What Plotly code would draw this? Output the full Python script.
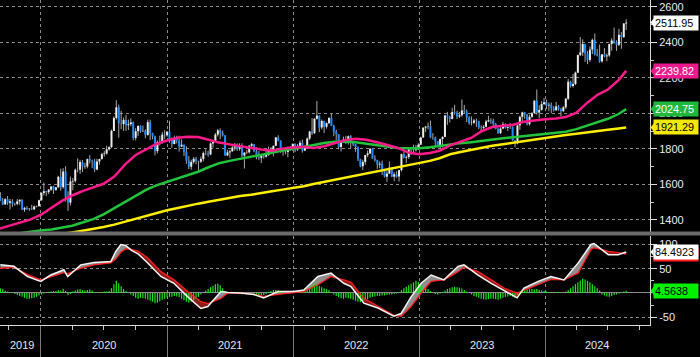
import pandas as pd
import plotly.graph_objects as go

# ------------------------------------------------------------------ data
WEEK0 = "2019-09-06"          # first weekly bar (Friday)
OPEN0 = 1529                  # open of the first weekly bar

CLOSE = [
    # 2019
    1507, 1488, 1517, 1497, 1505, 1489, 1490, 1505, 1514, 1459, 1468, 1462, 1464, 1460, 1476, 1478, 1511,
    # 2020
    1552, 1562, 1557, 1571, 1589, 1570, 1584, 1643, 1585, 1673, 1530, 1498, 1617, 1620, 1683, 1683, 1727,
    1700, 1702, 1743, 1735, 1730, 1685, 1730, 1743, 1771, 1775, 1798, 1810, 1902, 1975, 2035, 1944, 1940,
    1964, 1934, 1940, 1950, 1862, 1900, 1930, 1900, 1902, 1879, 1951, 1889, 1871, 1788, 1839, 1839, 1881, 1877,
    # 2021
    1898, 1850, 1828, 1856, 1847, 1814, 1824, 1784, 1734, 1700, 1727, 1745, 1732, 1729, 1744, 1777, 1777,
    1769, 1831, 1844, 1881, 1905, 1891, 1877, 1764, 1781, 1787, 1808, 1815, 1802, 1814, 1763, 1780, 1781,
    1818, 1827, 1787, 1754, 1750, 1761, 1757, 1767, 1793, 1783, 1818, 1865, 1846, 1788, 1783, 1783, 1798,
    1811, 1829,
    # 2022
    1797, 1818, 1835, 1791, 1808, 1859, 1898, 1889, 1970, 1988, 1921, 1958, 1925, 1946, 1975, 1931, 1897,
    1884, 1811, 1846, 1853, 1851, 1872, 1840, 1827, 1811, 1742, 1703, 1727, 1766, 1775, 1802, 1747, 1737,
    1712, 1717, 1675, 1644, 1661, 1695, 1644, 1657, 1645, 1681, 1771, 1751, 1755, 1797, 1797, 1793, 1798, 1824,
    # 2023
    1865, 1920, 1926, 1928, 1865, 1865, 1842, 1811, 1856, 1868, 1989, 1978, 1969, 2008, 2004, 1983, 1990,
    2017, 2011, 1978, 1946, 1948, 1961, 1958, 1921, 1919, 1925, 1955, 1962, 1959, 1942, 1914, 1889, 1915,
    1940, 1919, 1924, 1925, 1849, 1833, 1933, 1981, 2006, 1993, 1940, 1981, 2002, 2072, 2005, 2020, 2053, 2063,
    # 2024
    2045, 2049, 2029, 2018, 2040, 2024, 2013, 2035, 2083, 2179, 2155, 2166, 2230, 2330, 2344, 2392, 2338,
    2302, 2360, 2415, 2334, 2327, 2294, 2333, 2322, 2327, 2392, 2411, 2401, 2387, 2443, 2431, 2507, 2511.95,
]

HIGH = [
    1557, 1524, 1523, 1535, 1519, 1517, 1498, 1518, 1516, 1517, 1474, 1478, 1466, 1485, 1481, 1481, 1514,
    1556, 1611, 1563, 1574, 1590, 1592, 1585, 1649, 1689, 1692, 1703, 1562, 1645, 1637, 1690, 1748, 1739,
    1738, 1722, 1746, 1765, 1740, 1745, 1745, 1745, 1779, 1789, 1818, 1815, 1909, 1984, 2075, 2050, 2015,
    1977, 1992, 1966, 1973, 1955, 1917, 1933, 1933, 1932, 1911, 1965, 1965, 1892, 1875, 1848, 1875, 1896, 1906,
    1900, 1959, 1865, 1875, 1875, 1875, 1855, 1825, 1816, 1760, 1740, 1755, 1756, 1734, 1758, 1785, 1798,
    1790, 1837, 1845, 1890, 1913, 1916, 1903, 1878, 1795, 1795, 1818, 1834, 1832, 1832, 1832, 1782, 1795,
    1823, 1834, 1827, 1809, 1788, 1765, 1770, 1800, 1814, 1810, 1819, 1868, 1877, 1849, 1793, 1793, 1815,
    1815, 1831,
    1831, 1829, 1848, 1853, 1810, 1865, 1902, 1974, 1974, 2070, 1990, 1966, 1960, 1949, 1978, 1998, 1936,
    1909, 1884, 1849, 1870, 1874, 1876, 1879, 1847, 1830, 1814, 1745, 1739, 1767, 1792, 1803, 1802, 1765,
    1740, 1730, 1735, 1688, 1676, 1730, 1695, 1669, 1675, 1682, 1774, 1787, 1763, 1804, 1810, 1824, 1823, 1833,
    1869, 1922, 1929, 1949, 1960, 1890, 1870, 1845, 1858, 1871, 1990, 2009, 1988, 2032, 2049, 2015, 2009,
    2079, 2048, 2022, 1985, 1983, 1970, 1971, 1959, 1933, 1935, 1964, 1987, 1973, 1971, 1946, 1920, 1923,
    1953, 1945, 1933, 1947, 1927, 1850, 1934, 1987, 2010, 2009, 1998, 1993, 2007, 2075, 2135, 2047, 2070, 2088,
    2078, 2062, 2062, 2041, 2065, 2048, 2032, 2041, 2088, 2195, 2185, 2223, 2236, 2330, 2431, 2418, 2393,
    2352, 2378, 2422, 2450, 2364, 2388, 2335, 2368, 2339, 2392, 2424, 2484, 2412, 2477, 2460, 2509, 2531,
]

LOW = [
    1506, 1484, 1485, 1485, 1459, 1474, 1480, 1483, 1486, 1456, 1446, 1456, 1452, 1456, 1456, 1471, 1476,
    1509, 1538, 1536, 1546, 1563, 1547, 1563, 1582, 1564, 1576, 1504, 1451, 1482, 1567, 1611, 1668, 1660,
    1670, 1688, 1691, 1718, 1693, 1670, 1680, 1711, 1741, 1757, 1768, 1791, 1806, 1901, 1966, 1863, 1911,
    1902, 1902, 1907, 1928, 1849, 1848, 1873, 1891, 1896, 1860, 1875, 1850, 1855, 1764, 1775, 1820, 1830, 1855,
    1869, 1835, 1808, 1826, 1831, 1785, 1811, 1761, 1717, 1687, 1683, 1717, 1714, 1677, 1721, 1730, 1765,
    1756, 1765, 1808, 1842, 1870, 1855, 1870, 1761, 1760, 1750, 1785, 1791, 1789, 1790, 1753, 1690, 1771,
    1775, 1801, 1782, 1742, 1737, 1721, 1746, 1751, 1761, 1770, 1758, 1816, 1843, 1778, 1762, 1770, 1753,
    1789, 1790,
    1782, 1789, 1806, 1780, 1788, 1807, 1850, 1878, 1885, 1966, 1895, 1910, 1890, 1915, 1940, 1929, 1872,
    1850, 1798, 1786, 1837, 1828, 1825, 1805, 1816, 1784, 1732, 1697, 1681, 1711, 1754, 1771, 1745, 1728,
    1688, 1692, 1654, 1639, 1615, 1660, 1641, 1618, 1638, 1617, 1673, 1747, 1721, 1744, 1766, 1773, 1785, 1795,
    1824, 1862, 1896, 1911, 1861, 1852, 1819, 1809, 1805, 1809, 1867, 1936, 1949, 1967, 1993, 1969, 1975,
    1982, 2000, 1952, 1937, 1933, 1940, 1925, 1911, 1893, 1902, 1922, 1951, 1942, 1929, 1911, 1885, 1884,
    1912, 1915, 1901, 1913, 1846, 1810, 1826, 1908, 1953, 1970, 1932, 1932, 1976, 2001, 1993, 1973, 2016, 2047,
    2024, 2013, 2002, 2010, 2016, 2015, 1984, 2009, 2025, 2076, 2146, 2146, 2160, 2228, 2323, 2324, 2291,
    2278, 2291, 2335, 2326, 2322, 2286, 2286, 2316, 2294, 2319, 2353, 2393, 2353, 2380, 2364, 2425, 2470,
]

HIST = [
    10, 8, 5, 3, 1, 0, -2, -4, -6, -8, -10, -12, -12, -11, -10, -8, -5,
    -3, -1, 0, 2, 3, 4, 4, 6, 5, 8, 4, -4, -2, 3, 5, 7, 8, 6, 5, 6, 7, 5, 2,
    1, 2, 2, 3, 3, 4, 10, 18, 25, 20, 14, 8, 4, 0,
    -3, -6, -10, -12, -10, -11, -12, -14, -16, -18, -21, -20, -17, -14, -12,
    -10, -8, -8, -6, -7, -9, -12, -15, -18, -20, -18, -15, -12, -8, -3, 2, 5,
    8, 12, 15, 18, 19, 16, 10, 4, 2, 0, -1, -2, -1, -2, -3, -2, -1, 0,
    -2, -4, -5, -6, -5, -4, -2, 2, 4, 6, 6, 5, 3, 1, 0, -1, 0, 1, 1, 2, 2, 3,
    5, 8, 12, 15, 18, 19, 15, 12, 10, 8, 6, 2, -3, -6, -9, -11, -12, -10, -11,
    -12, -14, -16, -18, -19, -17, -15, -13, -10, -8, -7, -6, -6, -5, -5, -4, -3,
    -3, -2, -1, 2, 6, 10, 13, 16, 19, 22, 25, 23, 20, 16, 12, 8, 4, 1, -2, -3, -1, 2,
    5, 8, 10, 12, 13, 12, 11, 9, 6, 3, 0, -3, -6,
    -8, -10, -12, -13, -14, -13, -12, -12, -13, -14, -12, -10, -8, -7, -6, -8, -10, -4, 1,
    4, 6, 7, 8, 8, 7, 8, 6, 5, 4, 3, 2, 1, 1, 2, 2, 1, 2, 3, 6,
    10, 14, 18, 22, 26, 30, 28, 25, 22, 18, 14, 10, 5, -3, -5, -7, -8, -6, -4, -3, -1, 1, 3, 4.5638,
]

# moving averages, read monthly (1st of each month Sep-2019 .. Aug-2024) plus the last bar
MA_END = "2024-08-23"
MA50 = [1350, 1366, 1383, 1402, 1428, 1467, 1506, 1538, 1563, 1584, 1604, 1645, 1712, 1765, 1798, 1828,
        1848, 1863, 1869, 1868, 1852, 1836, 1826, 1815, 1806, 1797, 1790, 1802, 1808, 1813, 1806, 1815,
        1832, 1850, 1858, 1852, 1838, 1824, 1806, 1780, 1771, 1777, 1790, 1820, 1842, 1862, 1900, 1924,
        1931, 1937, 1954, 1962, 1967, 1972, 1980, 2005, 2058, 2105, 2135, 2188, 2239.82]
MA100 = [1310, 1318, 1326, 1336, 1341, 1347, 1356, 1368, 1386, 1405, 1432, 1466, 1500, 1535, 1570, 1595,
         1615, 1633, 1652, 1672, 1697, 1720, 1733, 1745, 1753, 1766, 1780, 1792, 1802, 1811, 1824, 1834,
         1841, 1842, 1838, 1829, 1820, 1811, 1805, 1804, 1804, 1810, 1818, 1828, 1833, 1838, 1846, 1853,
         1860, 1866, 1872, 1879, 1886, 1891, 1897, 1912, 1930, 1950, 1970, 1997, 2024.75]
MA200 = [1270, 1278, 1286, 1294, 1302, 1310, 1320, 1330, 1339, 1348, 1360, 1374, 1390, 1408, 1423, 1440,
         1455, 1467, 1480, 1492, 1503, 1514, 1525, 1535, 1542, 1550, 1562, 1571, 1580, 1590, 1603, 1615,
         1625, 1637, 1648, 1658, 1672, 1684, 1695, 1707, 1718, 1733, 1748, 1770, 1783, 1795, 1808, 1818,
         1827, 1836, 1845, 1855, 1864, 1872, 1879, 1886, 1892, 1900, 1908, 1916, 1921.29]

MACD_DATES = ["2019-09-06", "2019-10-15", "2019-11-24", "2020-01-01", "2020-01-30", "2020-03-08",
              "2020-03-19", "2020-04-26", "2020-06-03", "2020-07-22", "2020-08-05", "2020-08-20",
              "2020-09-03", "2020-09-20", "2020-10-10", "2020-11-06", "2020-12-14", "2021-01-21",
              "2021-03-02", "2021-04-09", "2021-04-29", "2021-06-06", "2021-06-26", "2021-08-03",
              "2021-09-09", "2021-10-08", "2021-11-18", "2022-01-03", "2022-02-01", "2022-03-14",
              "2022-04-21", "2022-05-28", "2022-06-18", "2022-07-25", "2022-09-04", "2022-10-20",
              "2022-11-10", "2022-12-09", "2023-01-07", "2023-02-05", "2023-03-14", "2023-04-24",
              "2023-05-11", "2023-06-21", "2023-07-29", "2023-09-04", "2023-10-12", "2023-11-01",
              "2023-12-12", "2024-01-18", "2024-02-25", "2024-04-06", "2024-05-13", "2024-05-22",
              "2024-06-11", "2024-07-02", "2024-07-31", "2024-08-23"]
MACD = [58, 55, 34, 24, 37, 48, 34, 58, 63, 65, 85, 100, 98, 88, 80, 62, 34, 20, -8, -32,
        -28, 3, 1, 0, -3, -10, 3, 3, 6, 34, 41, 20, 13, -21, -31, -48, -42, -8, 20, 37,
        27, 55, 58, 37, 20, 6, -10, 10, 24, 34, 27, 62, 100, 102, 90, 79, 79, 84.4923]
SIGNAL = [51, 53, 38, 27, 33, 42, 40, 51, 58, 62, 70, 84, 91, 90, 86, 72, 44, 27, 3, -18,
          -22, -11, 0, 0, -3, -7, -3, 1, 3, 17, 34, 27, 22, -11, -28, -46, -48, -28, 0, 24,
          27, 44, 53, 44, 27, 10, 0, 6, 17, 28, 27, 41, 90, 93, 90, 86, 83, 79.9285]

YEAR_LABELS = ["2019", "2020", "2021", "2022", "2023", "2024"]
MACD_TICKS = [-50, 0, 50, 100]
MACD_TICKTEXT = ["-50", "", "50", "100"]

# ------------------------------------------------------------------ style / layout constants
FONT = "Liberation Sans, Arial, sans-serif"
YEAR_LABEL_POS = ["2019-11-07", "2020-07-02", "2021-07-02", "2022-07-02", "2023-07-02", "2024-05-31"]
X_RANGE = ["2019-09-05", "2024-10-31"]
C_UP, C_DN, C_WICK = "#ececec", "#1e8cff", "#a8a8a8"
C_MA50, C_MA100, C_MA200 = "#ff1a8c", "#22c43c", "#ffee00"
GRID = "#8a8a8a"
PLOT_H = 325.0

dates = pd.date_range(WEEK0, periods=len(CLOSE), freq="7D")
ds = [d.strftime("%Y-%m-%d") for d in dates]
opens = [OPEN0] + CLOSE[:-1]

wx, wy, ux, uy, dx, dy = [], [], [], [], [], []
for d, o, h, l, c in zip(ds, opens, HIGH, LOW, CLOSE):
    wx += [d, d, None]
    wy += [min(l, o, c), max(h, o, c), None]
    if c >= o:
        ux += [d, d, None]; uy += [o, c, None]
    else:
        dx += [d, d, None]; dy += [o, c, None]

ma_dates = [d.strftime("%Y-%m-%d") for d in pd.date_range("2019-09-01", "2024-08-01", freq="MS")] + [MA_END]

fig = go.Figure()
fig.add_trace(go.Scatter(x=wx, y=wy, mode="lines", line=dict(color=C_WICK, width=1),
                         xaxis="x", yaxis="y", hoverinfo="skip"))
fig.add_trace(go.Scatter(x=ux, y=uy, mode="lines", line=dict(color=C_UP, width=2),
                         xaxis="x", yaxis="y", hoverinfo="skip"))
fig.add_trace(go.Scatter(x=dx, y=dy, mode="lines", line=dict(color=C_DN, width=2),
                         xaxis="x", yaxis="y", hoverinfo="skip"))
for vals, col in [(MA200, C_MA200), (MA100, C_MA100), (MA50, C_MA50)]:
    fig.add_trace(go.Scatter(x=ma_dates, y=vals, mode="lines", line=dict(color=col, width=2.5),
                             xaxis="x", yaxis="y", hoverinfo="skip"))

# --- MACD panel: fills between MACD and signal (with exact crossing points)
mt = pd.to_datetime(MACD_DATES)
tn = [t.value for t in mt]
fx, fsig, fhi, flo = [], [], [], []
for i in range(len(MACD)):
    if i > 0:
        d0 = MACD[i - 1] - SIGNAL[i - 1]
        d1 = MACD[i] - SIGNAL[i]
        if d0 * d1 < 0:
            f = d0 / (d0 - d1)
            tc = tn[i - 1] + f * (tn[i] - tn[i - 1])
            yc = SIGNAL[i - 1] + f * (SIGNAL[i] - SIGNAL[i - 1])
            fx.append(pd.Timestamp(int(tc)).strftime("%Y-%m-%d %H:%M"))
            fsig.append(yc); fhi.append(yc); flo.append(yc)
    fx.append(mt[i].strftime("%Y-%m-%d"))
    fsig.append(SIGNAL[i])
    fhi.append(max(MACD[i], SIGNAL[i]))
    flo.append(min(MACD[i], SIGNAL[i]))

fig.add_trace(go.Scatter(x=fx, y=fsig, mode="lines", line=dict(width=0), xaxis="x2", yaxis="y2", hoverinfo="skip"))
fig.add_trace(go.Scatter(x=fx, y=fhi, mode="lines", line=dict(width=0), fill="tonexty",
                         fillcolor="#8e8e8e", xaxis="x2", yaxis="y2", hoverinfo="skip"))
fig.add_trace(go.Scatter(x=fx, y=fsig, mode="lines", line=dict(width=0), xaxis="x2", yaxis="y2", hoverinfo="skip"))
fig.add_trace(go.Scatter(x=fx, y=flo, mode="lines", line=dict(width=0), fill="tonexty",
                         fillcolor="#8a1c1c", xaxis="x2", yaxis="y2", hoverinfo="skip"))

hx, hy = [], []
for d, v in zip(ds, HIST):
    hx += [d, d, None]; hy += [0, v, None]
fig.add_trace(go.Scatter(x=hx, y=hy, mode="lines", line=dict(color="#22e622", width=1.2),
                         xaxis="x2", yaxis="y2", hoverinfo="skip"))
fig.add_trace(go.Scatter(x=MACD_DATES, y=SIGNAL, mode="lines", line=dict(color="#ff1e1e", width=1.3),
                         xaxis="x2", yaxis="y2", hoverinfo="skip"))
fig.add_trace(go.Scatter(x=MACD_DATES, y=MACD, mode="lines", line=dict(color="#f4f4f4", width=1.5),
                         xaxis="x2", yaxis="y2", hoverinfo="skip"))

tickfont = dict(family=FONT, size=11, color="#e8ecf2")
main_dom = [(PLOT_H - 232) / PLOT_H, 1]
low_dom = [0, (PLOT_H - 236) / PLOT_H]

xcommon = dict(type="date", range=X_RANGE, showgrid=True, gridcolor=GRID, griddash="dot", gridwidth=1,
               tickmode="linear", tick0="2019-01-01", dtick="M12", zeroline=False, showticklabels=False,
               automargin=False)

fig.update_layout(
    width=700, height=357, autosize=False,
    margin=dict(l=0, r=50, t=0, b=32),
    paper_bgcolor="#000000", plot_bgcolor="#000000",
    showlegend=False, hovermode=False,
    font=dict(family=FONT, color="#e8ecf2"),
    xaxis=dict(**xcommon, domain=[0, 1], anchor="y", ticks="", showline=False),
    xaxis2=dict(**xcommon, domain=[0, 1], anchor="y2", matches="x", ticks="outside", ticklen=32,
                tickcolor="#7a7a7a", tickwidth=1, showline=True, linecolor="#d8d8d8", linewidth=1,
                minor=dict(dtick="M3", tick0="2019-01-01", ticks="outside", ticklen=4,
                           tickcolor="#c8c8c8", showgrid=False)),
    yaxis=dict(domain=main_dom, anchor="x", side="right", range=[1332.3, 2639.4],
               tickmode="linear", tick0=0, dtick=200, ticks="outside", ticklen=6, tickcolor="#e0e0e0",
               showgrid=True, gridcolor=GRID, griddash="dot", zeroline=False,
               showline=True, linecolor="#d8d8d8", linewidth=1, tickfont=tickfont, automargin=False,
               minor=dict(dtick=100, tick0=0, ticks="outside", ticklen=3, tickcolor="#c8c8c8", showgrid=False)),
    yaxis2=dict(domain=low_dom, anchor="x2", side="right", range=[-66, 117.5],
                tickmode="array", tickvals=MACD_TICKS, ticktext=MACD_TICKTEXT,
                ticks="outside", ticklen=6, tickcolor="#e0e0e0",
                showgrid=True, gridcolor=GRID, griddash="dot",
                zeroline=True, zerolinecolor="#8c8c8c", zerolinewidth=1,
                showline=True, linecolor="#d8d8d8", linewidth=1, tickfont=tickfont, automargin=False,
                minor=dict(tickmode="array", tickvals=[-25, 25, 75], ticks="outside", ticklen=3,
                           tickcolor="#c8c8c8", showgrid=False)),
)

shapes = [dict(type="rect", xref="paper", yref="paper", x0=0, x1=700 / 650,
               y0=(PLOT_H - 235.5) / PLOT_H, y1=(PLOT_H - 231.5) / PLOT_H,
               fillcolor="#6a6a6a", line=dict(width=0), layer="above")]

anns = []
for lab, pos in zip(YEAR_LABELS, YEAR_LABEL_POS):
    anns.append(dict(xref="x2", yref="paper", x=pos, y=-20 / PLOT_H, text=lab, showarrow=False,
                     xanchor="center", yanchor="middle", font=dict(family=FONT, size=11, color="#e0e8f2")))


def tag(yref, yval, text, bg, fg, pointer=True):
    if pointer:
        shapes.append(dict(type="path", xref="paper", yref=yref, xsizemode="pixel", ysizemode="pixel",
                           xanchor=1, yanchor=yval, path="M 0.5 0 L 4.5 5 L 4.5 -5 Z",
                           fillcolor=bg, line=dict(width=0), layer="above"))
    anns.append(dict(xref="paper", yref=yref, x=1 + 3 / 650, y=yval, xanchor="left", yanchor="middle",
                     text=text, showarrow=False, bgcolor=bg, borderpad=1, width=42, height=12,
                     align="left", font=dict(family=FONT, size=10.8, color=fg)))


tag("y", CLOSE[-1], f"{CLOSE[-1]:.2f}", "#ffffff", "#000000")
tag("y", MA50[-1], f"{MA50[-1]:.2f}", "#ec1a8c", "#ffffff")
tag("y", MA100[-1], f"{MA100[-1]:.2f}", "#20b83c", "#ffffff")
tag("y", MA200[-1], f"{MA200[-1]:.2f}", "#f4e800", "#000000")
tag("y2", SIGNAL[-1], " ", "#ff1e1e", "#ff1e1e", pointer=False)   # signal tag, hidden behind the MACD tag
tag("y2", MACD[-1], f"{MACD[-1]:.4f}", "#ffffff", "#000000")
tag("y2", HIST[-1], f"{HIST[-1]:.4f}", "#00f000", "#000000")
fig.update_layout(annotations=anns, shapes=shapes)

fig.write_html("out.html", config={"displayModeBar": False},
               post_script="document.body.style.margin='0';document.body.style.padding='0';")
